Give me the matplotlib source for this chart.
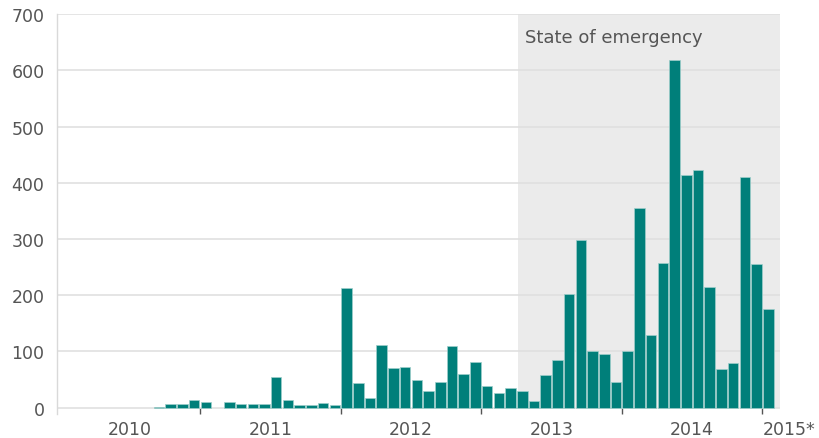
import matplotlib
matplotlib.use("Agg")
import matplotlib.pyplot as plt
import numpy as np

# monthly counts, Jan 2010 .. Jan 2015
months = np.arange(61)
counts = np.array([
    0, 0, 0, 0, 0, 0, 0, 0, 2, 6, 6, 13,               # 2010
    10, 0, 10, 6, 6, 6, 54, 13, 4, 4, 8, 4,            # 2011
    213, 43, 17, 112, 71, 73, 50, 29, 46, 109, 59, 82,  # 2012
    39, 26, 35, 29, 11, 58, 84, 202, 298, 100, 96, 46,  # 2013
    100, 356, 130, 258, 619, 413, 423, 215, 68, 79, 411, 255,  # 2014
    176,                                                 # 2015
])
year_labels = ["2010", "2011", "2012", "2013", "2014", "2015*"]
year_label_pos = [6, 18, 30, 42, 54, 62.3]
year_bounds = [12, 24, 36, 48, 60]
emergency_start = 39.15
emergency_label = "State of emergency"

bar_color = "#007f7a"
text_color = "#555555"
grid_color = "#dedede"

plt.rcParams["font.family"] = ["DejaVu Sans"]

fig = plt.figure(figsize=(8.19, 4.39), dpi=100)
ax = fig.add_axes([0.0696, 0.0551, 0.9524 - 0.0696, 0.9654 - 0.0551])

xmin, xmax = -0.21, 61.5
ax.set_xlim(xmin, xmax)
ax.set_ylim(-11, 700)

# shaded period
ax.fill_between([emergency_start, xmax], 0, 700, color="#ebebeb", zorder=0, linewidth=0)
ax.text(emergency_start + 0.55, 659, emergency_label, fontsize=13, color=text_color,
        va="center", ha="left")

ax.set_yticks(np.arange(0, 701, 100))
ax.yaxis.grid(True, color=grid_color, linewidth=1.1, zorder=1)
ax.set_axisbelow(True)
ax.tick_params(axis="y", length=0, pad=9, labelsize=12.5, labelcolor=text_color)

# skip empty months so no outline shows on the baseline
nz = counts > 0
ax.bar(months[nz] + 0.5, counts[nz], width=0.9, color=bar_color, edgecolor="#9fcfcb",
       linewidth=0.5, zorder=3)

ax.set_xticks(year_bounds)
ax.set_xticklabels([])
ax.tick_params(axis="x", direction="in", length=4.3, width=1.0, color="#555555")
for pos, lab in zip(year_label_pos, year_labels):
    ax.text(pos, -0.05, lab, transform=ax.get_xaxis_transform(), ha="center", va="baseline",
            fontsize=12.5, color=text_color, clip_on=False)

for s in ["top", "right", "bottom"]:
    ax.spines[s].set_visible(False)
ax.spines["left"].set_color("#d9d9d9")
ax.spines["left"].set_linewidth(1.0)

fig.savefig("out.png", dpi=100)
